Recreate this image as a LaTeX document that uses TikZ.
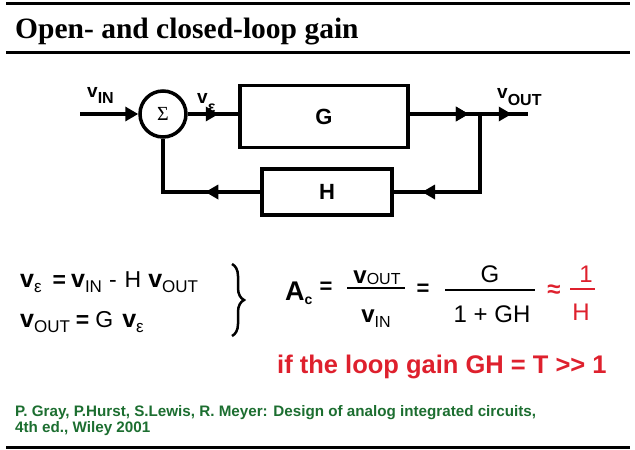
\documentclass[tikz,border=0pt]{standalone}
\usepackage{fontspec}
\setmainfont{Liberation Sans}
\newfontfamily\titlefont{Liberation Serif}
\usetikzlibrary{decorations.markings,decorations.pathreplacing,arrows.meta}
\definecolor{eqred}{RGB}{222,32,45}
\definecolor{refgreen}{RGB}{28,110,48}
% \vsub{v size}{sub size}{sub text}{lowering}
\newcommand\vsub[4]{{\fontsize{#1}{#1}\selectfont\bfseries v}\raisebox{-#4pt}{\fontsize{#2}{#2}\selectfont #3}}
\newcommand\vbsub[4]{{\fontsize{#1}{#1}\selectfont\bfseries v}\raisebox{-#4pt}{\fontsize{#2}{#2}\selectfont\bfseries #3}}
\newcommand\gap[1]{\hspace{#1pt}}
\tikzset{
  sig/.style={line width=3.5pt},
  blockbox/.style={draw, line width=3.5pt, inner sep=0pt, font=\fontsize{22}{22}\selectfont\bfseries},
  tipstyle/.style={-{Triangle[length=13pt,width=14pt]}},
  arrowat/.style={postaction={decorate}, decoration={markings, mark=at position #1 with {\arrow{Triangle[length=13pt,width=14pt]}}}},
  eqtext/.style={anchor=base west, inner sep=0pt, font=\fontsize{23}{23}\selectfont},
  bigeq/.style={anchor=base, inner sep=0pt, font=\fontsize{24}{24}\selectfont},
  rulestyle/.style={line width=3pt}
}
\begin{document}
\begin{tikzpicture}[x=1pt,y=-1pt]
\useasboundingbox (0,0) rectangle (635,450);
% rules
\draw[rulestyle] (6,3.5) -- (630,3.5);
\draw[rulestyle] (6,52) -- (630,52);
\draw[rulestyle] (6,447) -- (630,447);
% title
\node[anchor=base west, inner sep=0pt, font=\titlefont\bfseries\fontsize{29.5}{30}\selectfont] (title) at (15,38.5) {Open- and closed-loop gain};
% block diagram
\node[circle, draw, line width=3.5pt, minimum size=46pt, inner sep=0pt, font=\titlefont\fontsize{20}{20}\selectfont] (sum) at (163,114) {Σ};
\node[blockbox, minimum width=168pt, minimum height=62pt] (G) at (324,116.5) {G};
\node[blockbox, minimum width=130pt, minimum height=46pt] (H) at (327,192) {H};
\coordinate (in) at (80,114);
\coordinate (br) at (480,114);
\coordinate (out) at (528,114);
\coordinate (brb) at (480,192);
\coordinate (fbl) at (163,192);
\draw[sig, tipstyle] (in) -- (sum.west);
\draw[sig, arrowat=31pt] (sum.east) -- (sum.east -| G.west);
\draw[sig, arrowat=59pt, postaction={decorate, decoration={markings, mark=at position 102pt with {\arrow{Triangle[length=13pt,width=14pt]}}}}] (G.east |- br) -- (br) -- (out);
\draw[sig, arrowat=136pt] (br) -- (brb) -- (brb -| H.east);
\draw[sig, arrowat=55pt] (H.west) -- (fbl) -- (sum.south);
% diagram labels
\node[anchor=base west, inner sep=0pt] (lin) at (87,97) {\vbsub{19}{16}{IN}{6}};
\node[anchor=base west, inner sep=0pt] (leps) at (197,103) {\vbsub{19}{16}{ε}{9}};
\node[anchor=base west, inner sep=0pt] (lout) at (497,98) {\vbsub{19}{16}{OUT}{7}};
% left equations
\node[eqtext] (eq1) at (20,287) {\vsub{25}{17}{ε}{5}\gap{11}{\bfseries=}\gap{5}\vsub{25}{17}{IN}{5}\gap{7}-\gap{8}H\gap{7}\vsub{25}{17}{OUT}{5}};
\node[eqtext] (eq2) at (20,327) {\vsub{25}{17}{OUT}{5}\gap{6}{\bfseries=}\gap{6}G\gap{9}\vsub{25}{17}{ε}{5}};
\draw[line width=2.5pt, decorate, decoration={brace, amplitude=12pt}] (232,264) -- (232,336);
% right equation
\node[anchor=base west, inner sep=0pt] (ac) at (285,300) {{\fontsize{27}{27}\selectfont\bfseries A}\raisebox{-4pt}{\fontsize{14}{14}\selectfont\bfseries c}};
\node[bigeq, font=\fontsize{22}{22}\selectfont\bfseries] (eqa) at (326,293) {=};
\draw[line width=2.5pt] (347,288) -- (405,288);
\node[anchor=base, inner sep=0pt] (num1) at (377,283) {\vsub{24}{16}{OUT}{1}};
\node[anchor=base, inner sep=0pt] (den1) at (376,322) {\vsub{24}{16}{IN}{5}};
\node[bigeq, font=\fontsize{22}{22}\selectfont\bfseries] (eqb) at (423,295) {=};
\draw[line width=2.5pt] (445,290) -- (535,290);
\node[bigeq] (num2) at (490,282) {G};
\node[bigeq] (den2) at (492,322) {1 + GH};
\node[bigeq, text=eqred, font=\fontsize{24}{24}\selectfont\bfseries] (approx) at (554,297) {≈};
\draw[line width=2.5pt, eqred] (570,289) -- (595,289);
\node[bigeq, text=eqred] (num3) at (586,282) {1};
\node[bigeq, text=eqred] (den3) at (581,320) {H};
\node[anchor=base west, inner sep=0pt, text=eqred, font=\fontsize{25.5}{25.5}\selectfont\bfseries] (cond) at (277,373) {if the loop gain GH = T {>}{>} 1};
% reference
\node[anchor=base west, inner sep=0pt, align=left, text=refgreen, font=\fontsize{15.2}{15.5}\selectfont\bfseries] (ref) at (15,432) {P. Gray, P.Hurst, S.Lewis, R. Meyer: Design of analog integrated circuits,\\4th ed., Wiley 2001};
\end{tikzpicture}
\end{document}
